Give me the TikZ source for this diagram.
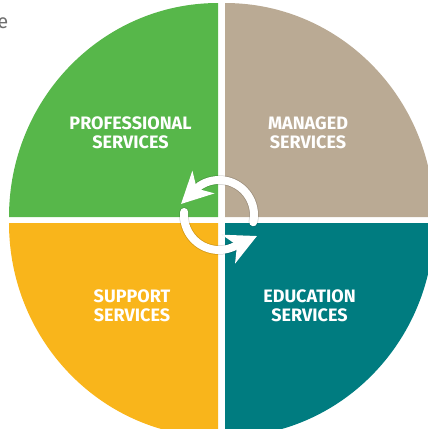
\documentclass[tikz,border=0pt]{standalone}
\usepackage{fontspec}
\setmainfont{Fira Sans}
\usetikzlibrary{arrows.meta}
\definecolor{cProf}  {HTML}{57B74A}
\definecolor{cMgd}   {HTML}{BAAA94}
\definecolor{cSupp}  {HTML}{F9B51B}
\definecolor{cEdu}   {HTML}{007C80}
\definecolor{cMuted} {HTML}{6E6E6E}

\begin{document}
\begin{tikzpicture}[x=1pt, y=-1pt,
    svclabel/.style={font=\bfseries\fontsize{18}{19.5}\selectfont, text=white,
                     align=center, inner sep=0pt},
    cyctip/.style={-{Stealth[length=31pt, width=31pt, inset=9pt]}},
    cycarrow/.style={cyctip, draw=white, line width=8pt, line cap=round},
    cycshadow/.style={cyctip, draw=black, draw opacity=0.16, line width=9.5pt,
                      line cap=round, fill opacity=0.16},
  ]
  \useasboundingbox (0,0) rectangle (428,429);
  \clip (0,0) rectangle (428,429);

  % four quarters
  \fill[cProf] (218,217) -- ++(-209,0)
        arc[start angle=180, end angle=270, x radius=209, y radius=214] -- cycle;
  \fill[cMgd]  (225,217) -- ++(0,-214)
        arc[start angle=270, end angle=360, x radius=209, y radius=214] -- cycle;
  \fill[cSupp] (218,223) -- ++(-209,0)
        arc[start angle=180, end angle=90, x radius=209, y radius=214] -- cycle;
  \fill[cEdu]  (225,223) -- ++(209,0)
        arc[start angle=0, end angle=90, x radius=209, y radius=214] -- cycle;

  \node[svclabel] (prof) at (130.5,133) {PROFESSIONAL\\SERVICES};
  \node[svclabel] (mgd)  at (308,133)   {MANAGED\\SERVICES};
  \node[svclabel] (supp) at (132,306)   {SUPPORT\\SERVICES};
  \node[svclabel] (edu)  at (309.5,306) {EDUCATION\\SERVICES};

  \node[font=\fontsize{20}{22}\selectfont, text=cMuted, anchor=base east,
        inner sep=0pt] (cut) at (8.5,28) {e};

  % cycle arrows in the middle
  \coordinate (hub) at (219,215);
  \coordinate (tipA) at (181,204);
  \coordinate (tipB) at (257,236);
  \begin{scope}[shift={(1.2,2.2)}]
    \draw[cycshadow] ([shift={(12:35)}]hub)
          arc[start angle=12, end angle=-124, radius=35] -- (tipA);
    \draw[cycshadow] ([shift={(185:35)}]hub)
          arc[start angle=185, end angle=68, radius=35] -- (tipB);
  \end{scope}
  \draw[cycarrow] ([shift={(12:35)}]hub)
        arc[start angle=12, end angle=-124, radius=35] -- (tipA);
  \draw[cycarrow] ([shift={(185:35)}]hub)
        arc[start angle=185, end angle=68, radius=35] -- (tipB);
\end{tikzpicture}
\end{document}
